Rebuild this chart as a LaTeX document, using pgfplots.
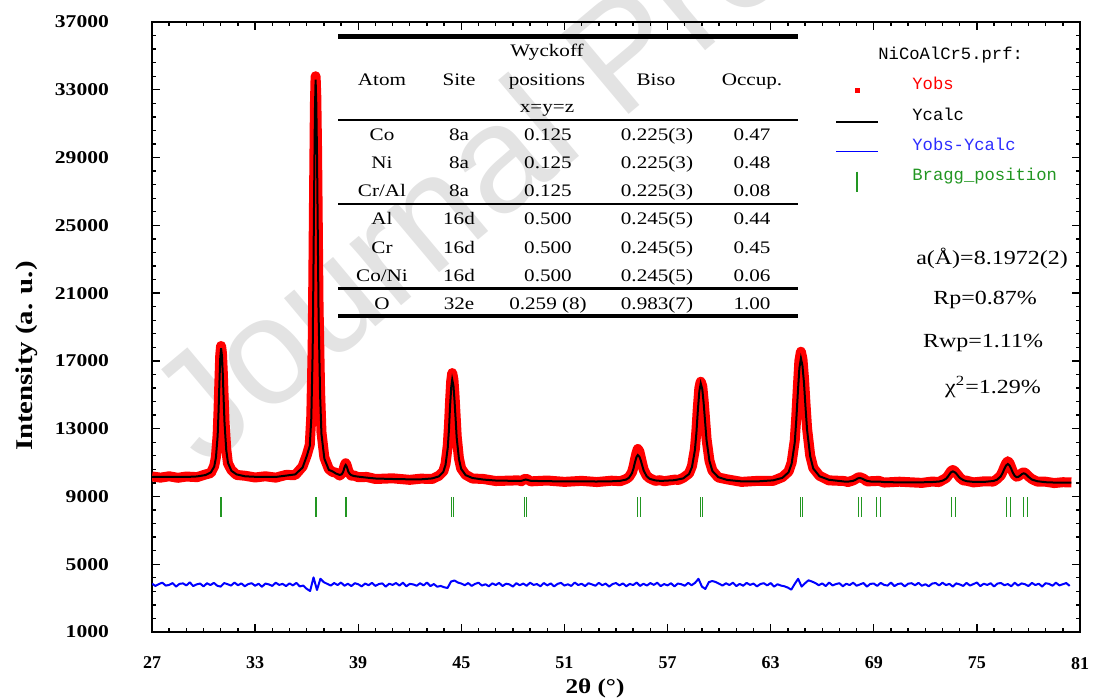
\documentclass[border=0pt]{standalone}
\usepackage{fontspec}
\setmainfont{Liberation Serif}
\newfontfamily\wide{Liberation Serif}[FakeStretch=1.2]
\newfontfamily\mono{Liberation Mono}
\newfontfamily\wm{Liberation Sans}
\usepackage{pgfplots}
\usepackage{pgfplotstable}
\pgfplotsset{compat=1.18}
\definecolor{braggc}{RGB}{34,150,34}
\definecolor{legblue}{RGB}{45,45,255}

% observed / calculated profile (2theta, Ycalc, Yobs)
\pgfplotstableread{
x calc obs
27.00 10160 10180
27.50 10150 10110
28.00 10150 10190
28.50 10148 10100
29.00 10150 10175
29.62 10180 10140
30.12 10264 10300
30.42 10416 10380
30.62 10758 10800
30.72 11290 11330
30.82 12582 12650
30.87 13950 14020
30.92 15622 15700
30.97 17142 17300
31.02 17750 17880
31.07 17294 17450
31.12 16230 16300
31.17 14710 14800
31.22 13342 13420
31.32 11746 11800
31.42 10986 10950
31.62 10515 10560
31.92 10302 10270
32.42 10188 10220
33.00 10160 10120
33.60 10155 10190
34.20 10150 10110
34.80 10230 10270
35.33 10300 10260
35.76 10700 10760
36.01 11400 11450
36.18 11980 12050
36.27 13625 13750
36.35 17620 17850
36.39 21850 22100
36.435 27020 27300
36.48 31720 32100
36.52 33600 33800
36.56 32190 32600
36.605 28900 29400
36.65 24200 24600
36.69 19970 20300
36.78 15035 15250
36.86 12685 12800
37.03 11228 11300
37.29 10570 10620
37.50 10480 10450
37.71 10350 10400
37.92 10270 10230
38.03 10300 10340
38.11 10420 10470
38.15 10540 10600
38.19 10680 10760
38.23 10800 10880
38.27 10860 10960
38.31 10800 10880
38.35 10700 10760
38.39 10570 10620
38.43 10450 10480
38.51 10330 10360
38.59 10260 10230
38.75 10205 10240
38.99 10170 10140
39.50 10110 10150
40.00 10060 10030
41.00 10030 10070
42.00 10010 9980
42.65 10010 10050
43.30 10064 10030
43.69 10182 10220
43.95 10449 10480
44.08 10864 10920
44.21 11871 12000
44.28 12938 13150
44.34 14241 14500
44.41 15426 15800
44.47 15900 16280
44.54 15545 15900
44.60 14715 15000
44.67 13530 13700
44.73 12464 12550
44.86 11219 11250
44.99 10627 10650
45.25 10259 10280
45.64 10089 10060
46.29 9995 10030
47.00 9940 9910
48.30 9915 9950
48.50 9925 9900
48.62 9960 10000
48.75 10000 10050
48.88 9965 9990
49.05 9920 9890
50.00 9900 9940
51.00 9890 9860
52.00 9885 9920
52.89 9882 9850
53.74 9894 9930
54.25 9925 9900
54.59 9996 10030
54.76 10106 10150
54.93 10374 10430
55.02 10658 10750
55.10 11004 11150
55.19 11319 11550
55.27 11445 11800
55.36 11351 11650
55.44 11130 11300
55.53 10815 10900
55.61 10532 10580
55.78 10201 10230
55.95 10043 10080
56.29 9946 9920
56.55 9923 9960
56.80 9927 9900
57.40 9960 9990
57.65 10013 9980
57.91 10064 10100
58.25 10325 10360
58.42 10732 10790
58.59 11721 11800
58.68 12768 12880
58.76 14047 14200
58.85 15210 15400
58.93 15675 15770
59.02 15326 15500
59.10 14512 14650
59.19 13349 13450
59.27 12302 12380
59.44 11081 11100
59.61 10500 10530
59.95 10139 10120
60.46 9976 10010
61.31 9889 9860
62.24 9889 9920
63.14 9950 9920
63.68 10096 10140
64.04 10425 10470
64.22 10937 11000
64.40 12179 12300
64.49 13495 13700
64.58 15103 15400
64.67 16565 17000
64.76 17150 17540
64.85 16711 17100
64.94 15688 15950
65.03 14226 14400
65.12 12910 13000
65.30 11375 11420
65.48 10644 10680
65.84 10191 10220
66.38 9986 9950
67.28 9880 9910
67.50 9875 9850
67.80 9920 9950
67.95 9990 10030
68.05 10060 10100
68.18 10090 10140
68.30 10060 10090
68.42 10000 10040
68.60 9920 9890
68.90 9870 9900
69.30 9880 9920
69.60 9850 9820
70.50 9830 9870
71.80 9835 9800
72.40 9850 9880
72.80 9880 9850
73.00 9930 9970
73.20 10040 10080
73.30 10155 10200
73.40 10300 10350
73.50 10430 10500
73.60 10480 10560
73.70 10440 10500
73.80 10350 10380
73.90 10220 10260
74.00 10100 10120
74.20 9970 9950
74.40 9900 9930
74.80 9860 9830
75.40 9855 9890
75.96 9912 9880
76.17 9989 10030
76.38 10174 10230
76.49 10370 10450
76.59 10610 10700
76.70 10828 10950
76.80 10915 11080
76.90 10830 10960
77.00 10620 10700
77.10 10390 10440
77.20 10220 10260
77.31 10140 10170
77.42 10160 10200
77.52 10230 10280
77.62 10320 10380
77.72 10365 10420
77.82 10330 10380
77.92 10240 10280
78.02 10140 10170
78.20 10000 10030
78.50 9900 9880
79.00 9840 9870
79.50 9820 9790
80.00 9815 9840
80.50 9810 9830
}\prof

\begin{document}
\begin{tikzpicture}
% frame of the page in pixel units of the reference (origin top left)
\begin{scope}[x=0.5pt,y=-0.5pt]
  \useasboundingbox (0,0) rectangle (1101,700);
  \begin{scope}
    \clip (0,0) rectangle (1101,700);
    \node[anchor=base west, rotate=40, inner sep=0, text=black!11,
      font=\wm\fontsize{76}{76}\selectfont] at (205,470) {Journal Pre-proof};
  \end{scope}
\end{scope}

\begin{axis}[
    at={(76pt,-316pt)}, anchor=south west,
    scale only axis, width=464pt, height=305pt,
    xmin=27, xmax=81, ymin=1000, ymax=37000,
    xtick={27,33,...,81}, ytick={1000,5000,...,37000},
    minor x tick num=5, minor y tick num=4,
    tick align=inside,
    major tick length=4pt, minor tick length=2.2pt,
    every tick/.style={black, line width=0.7pt},
    axis line style={line width=1pt},
    scaled ticks=false,
    /pgf/number format/1000 sep={},
    /pgf/number format/assume math mode=true,
    xticklabel style={font=\bfseries\fontsize{9}{10}\selectfont, yshift=-9pt},
    yticklabel style={font=\wide\bfseries\fontsize{9}{10}\selectfont, xshift=-18pt},
  ]
  \addplot[red, line width=5pt, line join=round] table[x=x, y=obs] {\prof};
  \addplot[black, line width=1pt] table[x=x, y=calc] {\prof};
  % Yobs - Ycalc
  \addplot[blue, line width=1pt, line join=round] coordinates {
    (27.0,3850)(27.2,3720)(27.4,3830)(27.6,3910)(27.8,3740)(28.0,3780)(28.2,3890)(28.4,3680)
    (28.6,3840)(28.8,3870)(29.0,3750)(29.2,3930)(29.4,3710)(29.6,3810)(29.8,3860)(30.0,3690)
    (30.2,3880)(30.4,3770)(30.6,3900)(30.8,3730)(31.0,3680)(31.2,3890)(31.4,3820)(31.6,3740)
    (31.8,3920)(32.0,3760)(32.2,3870)(32.4,3700)(32.6,3830)(32.8,3880)(33.0,3730)(33.2,3850)
    (33.4,3670)(33.6,3860)(33.8,3810)(34.0,3720)(34.2,3910)(34.4,3780)(34.6,3840)(34.8,3710)
    (35.0,3870)(35.2,3750)(35.4,3900)(35.6,3690)(35.8,3740)(36.0,3550)(36.2,3420)(36.4,4220)
    (36.6,3480)(36.8,4140)(37.0,3940)(37.2,3840)(37.4,3740)(37.6,3890)(37.8,3770)(38.0,3920)
    (38.2,3730)(38.4,3850)(38.6,3710)(38.8,3880)(39.0,3820)(39.2,3690)(39.4,3860)(39.6,3760)
    (39.8,3900)(40.0,3720)(40.2,3830)(40.4,3870)(40.6,3680)(40.8,3850)(41.0,3780)(41.2,3890)
    (41.4,3740)(41.6,3910)(41.8,3700)(42.0,3840)(42.2,3810)(42.4,3730)(42.6,3880)(42.8,3750)
    (43.0,3920)(43.2,3710)(43.4,3830)(43.6,3670)(43.8,3720)(44.0,3640)(44.2,3600)(44.4,3980)
    (44.6,4040)(44.8,3920)(45.0,3860)(45.2,3760)(45.4,3890)(45.6,3720)(45.8,3840)(46.0,3910)
    (46.2,3740)(46.4,3820)(46.6,3700)(46.8,3870)(47.0,3770)(47.2,3900)(47.4,3710)(47.6,3850)
    (47.8,3810)(48.0,3680)(48.2,3880)(48.4,3760)(48.6,3860)(48.8,3730)(49.0,3910)(49.2,3780)
    (49.4,3830)(49.6,3700)(49.8,3890)(50.0,3750)(50.2,3870)(50.4,3690)(50.6,3840)(50.8,3900)
    (51.0,3740)(51.2,3820)(51.4,3720)(51.6,3920)(51.8,3770)(52.0,3850)(52.2,3710)(52.4,3880)
    (52.6,3810)(52.8,3730)(53.0,3900)(53.2,3760)(53.4,3860)(53.6,3680)(53.8,3830)(54.0,3890)
    (54.2,3750)(54.4,3870)(54.6,3700)(54.8,3840)(55.0,3770)(55.2,3920)(55.4,3720)(55.6,3850)
    (55.8,3740)(56.0,3890)(56.2,3780)(56.4,3910)(56.6,3710)(56.8,3830)(57.0,3750)(57.2,3880)
    (57.4,3690)(57.6,3860)(57.8,3820)(58.0,3730)(58.2,3900)(58.4,3760)(58.6,3900)(58.8,4140)
    (59.0,3680)(59.2,3540)(59.4,3940)(59.6,4010)(59.8,3950)(60.0,3850)(60.2,3740)(60.4,3880)
    (60.6,3770)(60.8,3910)(61.0,3710)(61.2,3840)(61.4,3730)(61.6,3900)(61.8,3780)(62.0,3860)
    (62.2,3690)(62.4,3830)(62.6,3880)(62.8,3750)(63.0,3890)(63.2,3680)(63.4,3820)(63.6,3740)
    (63.8,3700)(64.0,3620)(64.2,3500)(64.4,3840)(64.6,4140)(64.8,3680)(65.0,3880)(65.2,4050)
    (65.4,3980)(65.6,3890)(65.8,3760)(66.0,3870)(66.2,3710)(66.4,3920)(66.6,3750)(66.8,3830)
    (67.0,3880)(67.2,3700)(67.4,3850)(67.6,3770)(67.8,3910)(68.0,3730)(68.2,3810)(68.4,3890)
    (68.6,3680)(68.8,3840)(69.0,3860)(69.2,3720)(69.4,3900)(69.6,3780)(69.8,3740)(70.0,3920)
    (70.2,3710)(70.4,3830)(70.6,3870)(70.8,3690)(71.0,3850)(71.2,3880)(71.4,3760)(71.6,3900)
    (71.8,3730)(72.0,3820)(72.2,3700)(72.4,3860)(72.6,3890)(72.8,3750)(73.0,3910)(73.2,3770)
    (73.4,3840)(73.6,3680)(73.8,3870)(74.0,3810)(74.2,3720)(74.4,3900)(74.6,3740)(74.8,3830)
    (75.0,3920)(75.2,3710)(75.4,3850)(75.6,3780)(75.8,3880)(76.0,3690)(76.2,3860)(76.4,3890)
    (76.6,3760)(76.8,3830)(77.0,3700)(77.2,3910)(77.4,3740)(77.6,3870)(77.8,3820)(78.0,3710)
    (78.2,3900)(78.4,3770)(78.6,3850)(78.8,3680)(79.0,3880)(79.2,3840)(79.4,3730)(79.6,3910)
    (79.8,3750)(80.0,3820)(80.2,3890)(80.4,3720)
  };
  % Bragg positions (K-alpha1 / K-alpha2)
  \addplot[braggc, only marks, mark=|, mark size=5pt, mark options={line width=0.5pt}] coordinates {
    (31.00,8350)(31.04,8350)(36.49,8350)(36.58,8350)(38.25,8350)(38.29,8350)
    (44.44,8350)(44.53,8350)(48.70,8350)(48.80,8350)(55.24,8350)(55.40,8350)
    (58.89,8350)(59.05,8350)(64.71,8350)(64.86,8350)(68.10,8350)(68.26,8350)
    (69.17,8350)(69.40,8350)(73.54,8350)(73.73,8350)(76.74,8350)(76.93,8350)
    (77.70,8350)(77.94,8350)
  };
\end{axis}

\begin{scope}[x=0.5pt,y=-0.5pt]
  % axis titles
  \node[rotate=90, inner sep=0, font=\wide\bfseries\fontsize{12}{12}\selectfont] at (27,356) {Intensity (a. u.)};
  \node[inner sep=0, font=\wide\bfseries\fontsize{10.5}{11}\selectfont] at (595,688) {2θ (°)};

  % legend
  \begin{scope}[every node/.style={anchor=base west, inner sep=0, font=\mono\fontsize{8.6}{9}\selectfont}]
    \node at (878,60) {NiCoAlCr5.prf:};
    \node[text=red] at (912,90) {Yobs};
    \node at (912,121) {Ycalc};
    \node[text=legblue] at (912,151) {Yobs-Ycalc};
    \node[text=braggc] at (912,181) {Bragg\_position};
  \end{scope}
  \fill[red] (854.5,88.5) rectangle (859.5,93.5);
  \draw[black, line width=1pt] (836,121.7) -- (878,121.7);
  \draw[blue, line width=0.5pt] (836,151.7) -- (878,151.7);
  \draw[braggc, line width=0.6pt] (857,171.7) -- (857,191.7);

  % structure table
  \draw[line width=2.2pt] (338,36.7) -- (798,36.7);
  \draw[line width=1.4pt] (338,120) -- (798,120);
  \draw[line width=1.4pt] (338,204) -- (798,204);
  \draw[line width=1.4pt] (338,288.3) -- (798,288.3);
  \draw[line width=2.4pt] (338,316) -- (798,316);
  \begin{scope}[every node/.style={anchor=base, inner sep=0, font=\wide\fontsize{8.8}{9}\selectfont}]
    \node at (547,57) {Wyckoff};
    \node at (382,86) {Atom};
    \node at (459,86) {Site};
    \node at (547,86) {positions};
    \node at (656,86) {Biso};
    \node at (752,86) {Occup.};
    \node at (547,113) {x=y=z};
    \foreach \y/\a/\s/\w/\b/\o in {
        141/Co/8a/0.125/0.225(3)/0.47,
        169/Ni/8a/0.125/0.225(3)/0.48,
        197/Cr\slash Al/8a/0.125/0.225(3)/0.08,
        225/Al/16d/0.500/0.245(5)/0.44,
        253/Cr/16d/0.500/0.245(5)/0.45,
        281/Co\slash Ni/16d/0.500/0.245(5)/0.06,
        309/O/32e/0.259 (8)/0.983(7)/1.00} {
      \node at (382,\y) {\a};
      \node at (459,\y) {\s};
      \node at (548,\y) {\w};
      \node at (657,\y) {\b};
      \node at (752,\y) {\o};
    }
  \end{scope}

  % refinement results
  \begin{scope}[every node/.style={inner sep=0, font=\wide\fontsize{10}{11}\selectfont}]
    \node at (992,258) {a(Å)=8.1972(2)};
    \node at (985,300) {Rp=0.87\%};
    \node at (983,343) {Rwp=1.11\%};
    \node at (993,387) {χ\textsuperscript{2}=1.29\%};
  \end{scope}
\end{scope}
\end{tikzpicture}
\end{document}
